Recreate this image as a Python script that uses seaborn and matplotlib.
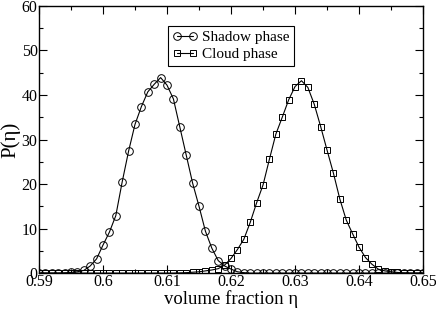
import numpy as np
import pandas as pd
import seaborn as sns
import matplotlib.pyplot as plt
from matplotlib.ticker import MultipleLocator

# volume fraction grid (step 0.001)
eta = [0.590, 0.591, 0.592, 0.593, 0.594, 0.595, 0.596, 0.597, 0.598, 0.599,
       0.600, 0.601, 0.602, 0.603, 0.604, 0.605, 0.606, 0.607, 0.608, 0.609,
       0.610, 0.611, 0.612, 0.613, 0.614, 0.615, 0.616, 0.617, 0.618, 0.619,
       0.620, 0.621, 0.622, 0.623, 0.624, 0.625, 0.626, 0.627, 0.628, 0.629,
       0.630, 0.631, 0.632, 0.633, 0.634, 0.635, 0.636, 0.637, 0.638, 0.639,
       0.640, 0.641, 0.642, 0.643, 0.644, 0.645, 0.646, 0.647, 0.648, 0.649,
       0.650]

# P(eta)
shadow = [0.0, 0.0, 0.0, 0.0, 0.05, 0.15, 0.3, 0.6, 1.6, 3.2,
          6.3, 9.2, 12.9, 20.5, 27.4, 33.4, 37.4, 40.7, 42.4, 43.9,
          42.2, 39.1, 32.8, 26.5, 20.2, 15.0, 9.4, 5.6, 2.8, 1.6,
          0.9, 0.3, 0.1, 0.0, 0.0, 0.0, 0.0, 0.0, 0.0, 0.0,
          0.0, 0.0, 0.0, 0.0, 0.0, 0.0, 0.0, 0.0, 0.0, 0.0,
          0.0, 0.0, 0.0, 0.0, 0.0, 0.0, 0.0, 0.0, 0.0, 0.0,
          0.0]
cloud = [0.0, 0.0, 0.0, 0.0, 0.0, 0.0, 0.0, 0.0, 0.0, 0.0,
         0.0, 0.0, 0.0, 0.0, 0.0, 0.0, 0.0, 0.0, 0.0, 0.0,
         0.0, 0.0, 0.05, 0.1, 0.2, 0.3, 0.5, 0.7, 1.0, 1.8,
         3.3, 5.3, 7.6, 11.4, 15.8, 19.8, 25.6, 31.2, 35.0, 38.9,
         41.9, 43.2, 41.7, 37.9, 32.9, 27.6, 22.4, 16.6, 11.9, 8.8,
         5.8, 3.5, 2.0, 0.9, 0.5, 0.3, 0.15, 0.05, 0.0, 0.0,
         0.0]

sns.set_style("ticks")
plt.rcParams['font.family'] = ['Liberation Serif', 'DejaVu Serif']
plt.rcParams['text.color'] = 'black'
plt.rcParams['axes.labelcolor'] = 'black'

fig = plt.figure(figsize=(4.36, 3.10), dpi=100)
ax = fig.add_axes([0.0894, 0.119, 0.881, 0.862])

# shared look of both curves
line_kw = dict(ax=ax, color='black', linewidth=0.8, markerfacecolor='none',
               markeredgecolor='black', markeredgewidth=0.7)
sns.lineplot(x=eta, y=shadow, marker='o', markersize=5.5,
             label='Shadow phase', **line_kw)
sns.lineplot(x=eta, y=cloud, marker='s', markersize=4.5,
             label='Cloud phase', **line_kw)

ax.set_xlim(0.59, 0.65)
ax.set_ylim(0, 60)
ax.xaxis.set_major_locator(MultipleLocator(0.01))
ax.xaxis.set_minor_locator(MultipleLocator(0.005))
ax.yaxis.set_major_locator(MultipleLocator(10))
ax.yaxis.set_minor_locator(MultipleLocator(5))
ax.xaxis.set_major_formatter(plt.FuncFormatter(lambda v, p: ('%.3f' % v).rstrip('0')))

ax.tick_params(which='both', direction='in', top=True, right=True,
               labelsize=11.5, width=0.8, pad=1, colors='black')
ax.tick_params(which='major', length=6)
ax.tick_params(which='minor', length=3)
for s in ax.spines.values():
    s.set_linewidth(1.0)
    s.set_color('black')

ax.set_xlabel('volume fraction η', fontsize=13.5, labelpad=0, color='black')
ax.set_ylabel('P(η)', fontsize=15, labelpad=1, color='black')

leg = ax.legend(loc='upper center', bbox_to_anchor=(0.5, 0.925), fontsize=11,
                frameon=True, fancybox=False, edgecolor='black', framealpha=1,
                numpoints=2, handlelength=1.6, handletextpad=0.3, borderpad=0.3,
                labelspacing=0.2, borderaxespad=0)
leg.get_frame().set_linewidth(0.8)
for t in leg.get_texts():
    t.set_color('black')

fig.savefig('out.png', dpi=100)
